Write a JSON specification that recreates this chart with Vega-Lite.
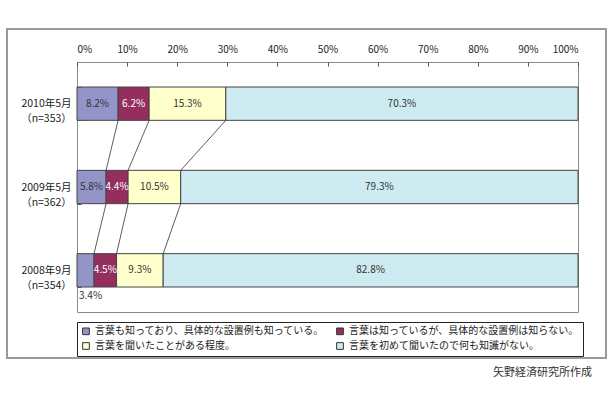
{
  "$schema": "https://vega.github.io/schema/vega-lite/v6.json",
  "width": 501,
  "height": 250,
  "autosize": {"type": "none"},
  "padding": {"left": 77, "top": 62, "right": 32, "bottom": 88},
  "background": "white",
  "title": {"text": "矢野経済研究所作成", "orient": "bottom", "anchor": "end", "frame": "group", "fontSize": 11, "fontWeight": "normal", "color": "#333", "offset": 8, "dx": 14},
  "config": {
    "font": "Noto Sans CJK JP",
    "view": {"stroke": "#8a8a8a", "strokeWidth": 1}
  },
  "data": {"values": [
    {"survey": "2010年5月|（n=353）", "k": 1, "answer": "言葉も知っており、具体的な設置例も知っている。", "pct": 8.2},
    {"survey": "2010年5月|（n=353）", "k": 2, "answer": "言葉は知っているが、具体的な設置例は知らない。", "pct": 6.2},
    {"survey": "2010年5月|（n=353）", "k": 3, "answer": "言葉を聞いたことがある程度。", "pct": 15.3},
    {"survey": "2010年5月|（n=353）", "k": 4, "answer": "言葉を初めて聞いたので何も知識がない。", "pct": 70.3},
    {"survey": "2009年5月|（n=362）", "k": 1, "answer": "言葉も知っており、具体的な設置例も知っている。", "pct": 5.8},
    {"survey": "2009年5月|（n=362）", "k": 2, "answer": "言葉は知っているが、具体的な設置例は知らない。", "pct": 4.4},
    {"survey": "2009年5月|（n=362）", "k": 3, "answer": "言葉を聞いたことがある程度。", "pct": 10.5},
    {"survey": "2009年5月|（n=362）", "k": 4, "answer": "言葉を初めて聞いたので何も知識がない。", "pct": 79.3},
    {"survey": "2008年9月|（n=354）", "k": 1, "answer": "言葉も知っており、具体的な設置例も知っている。", "pct": 3.4},
    {"survey": "2008年9月|（n=354）", "k": 2, "answer": "言葉は知っているが、具体的な設置例は知らない。", "pct": 4.5},
    {"survey": "2008年9月|（n=354）", "k": 3, "answer": "言葉を聞いたことがある程度。", "pct": 9.3},
    {"survey": "2008年9月|（n=354）", "k": 4, "answer": "言葉を初めて聞いたので何も知識がない。", "pct": 82.8}
  ]},
  "transform": [
    {"stack": "pct", "groupby": ["survey"], "sort": [{"field": "k", "order": "ascending"}], "as": ["x0", "x1"]}
  ],
  "encoding": {
    "y": {
      "field": "survey", "type": "nominal",
      "sort": ["2010年5月|（n=353）", "2009年5月|（n=362）", "2008年9月|（n=354）"],
      "scale": {"paddingInner": 0.6, "paddingOuter": 0.3},
      "axis": {
        "title": null, "domain": false, "tickBand": "extent", "tickSize": -4, "tickColor": "#555",
        "labelExpr": "isValid(datum.value) ? split(datum.value, '|') : ''", "labelAlign": "center", "labelBaseline": "middle",
        "labelPadding": 35, "labelFontSize": 10.5, "labelLineHeight": 15, "labelColor": "#222"
      }
    }
  },
  "layer": [
    {
      "mark": {"type": "rect", "fill": null, "stroke": "#9a9a9a", "strokeWidth": 1.2},
      "encoding": {
        "x": {"datum": -13.97, "type": "quantitative"},
        "x2": {"datum": 105.6},
        "y": {"datum": "2010年5月|（n=353）", "bandPosition": -1.74},
        "y2": {"datum": "2008年9月|（n=354）", "bandPosition": 3.13}
      }
    },
    {
      "mark": {"type": "bar", "stroke": "#444", "strokeWidth": 1},
      "encoding": {
        "x": {
          "field": "x0", "type": "quantitative",
          "scale": {"domain": [0, 100]},
          "axis": {
            "orient": "top", "title": null, "values": [0, 10, 20, 30, 40, 50, 60, 70, 80, 90, 100],
            "labelExpr": "datum.value + '%'", "grid": false, "domain": false,
            "tickSize": -4, "tickColor": "#555", "labelPadding": 12, "labelFontSize": 10, "labelColor": "#222"
          }
        },
        "x2": {"field": "x1"},
        "color": {
          "field": "answer", "type": "nominal",
          "scale": {
            "domain": ["言葉も知っており、具体的な設置例も知っている。", "言葉は知っているが、具体的な設置例は知らない。", "言葉を聞いたことがある程度。", "言葉を初めて聞いたので何も知識がない。"],
            "range": ["#9494c9", "#942e5e", "#ffffcc", "#cdebf1"]
          },
          "legend": {
            "title": null, "orient": "none", "legendX": 0, "legendY": 260, "columns": 2, "direction": "horizontal",
            "strokeColor": "#222", "padding": 4, "symbolType": "square", "symbolSize": 45,
            "symbolStrokeColor": "#333", "symbolStrokeWidth": 1, "labelFontSize": 10,
            "columnPadding": 9, "rowPadding": 3, "labelLimit": 400, "labelColor": "#222"
          }
        }
      }
    },
    {
      "transform": [
        {"filter": "datum.k < 4"},
        {"window": [{"op": "lead", "field": "x1", "as": "nx"}, {"op": "lead", "field": "survey", "as": "nsurvey"}],
         "groupby": ["answer"], "sort": [{"field": "survey", "order": "descending"}]},
        {"filter": "datum.nsurvey != null"}
      ],
      "mark": {"type": "rule", "color": "#333", "strokeWidth": 0.8},
      "encoding": {
        "x": {"field": "x1", "type": "quantitative"},
        "x2": {"field": "nx"},
        "y": {"field": "survey", "type": "nominal", "bandPosition": 1},
        "y2": {"field": "nsurvey", "bandPosition": 0}
      }
    },
    {
      "transform": [
        {"filter": "datum.pct >= 4"},
        {"calculate": "(datum.x0 + datum.x1) / 2", "as": "mid"},
        {"calculate": "format(datum.pct, '.1f') + '%'", "as": "label"}
      ],
      "mark": {"type": "text", "fontSize": 10, "baseline": "middle"},
      "encoding": {
        "x": {"field": "mid", "type": "quantitative"},
        "text": {"field": "label"},
        "fill": {"condition": {"test": "datum.k == 2", "value": "white"}, "value": "#333"}
      }
    },
    {
      "transform": [
        {"filter": "datum.pct < 4"},
        {"calculate": "format(datum.pct, '.1f') + '%'", "as": "label"}
      ],
      "mark": {"type": "text", "fontSize": 10, "baseline": "middle", "align": "left", "dx": 2, "dy": 9, "color": "#333"},
      "encoding": {
        "x": {"field": "x0", "type": "quantitative"},
        "y": {"field": "survey", "type": "nominal", "bandPosition": 1},
        "text": {"field": "label"}
      }
    }
  ]
}
